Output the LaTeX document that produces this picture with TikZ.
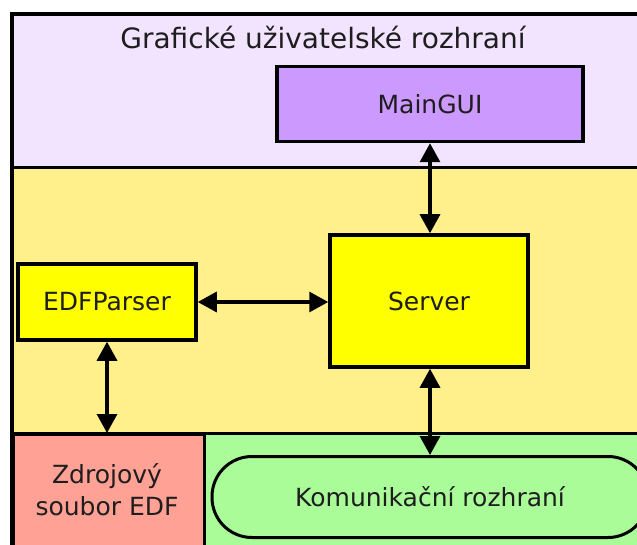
\documentclass[tikz,border=0pt]{standalone}
\usepackage{fontspec}
\setmainfont{DejaVu Sans}
\usetikzlibrary{arrows.meta}
\definecolor{lav}{HTML}{F2E3FF}
\definecolor{paley}{HTML}{FFF08C}
\definecolor{pinkr}{HTML}{FFA194}
\definecolor{greenr}{HTML}{AAFC98}
\definecolor{purp}{HTML}{CC99FF}
\definecolor{yel}{HTML}{FFFF00}
\definecolor{ink}{HTML}{1E1E1E}
\tikzset{
  region/.style={draw=black, line width=3pt},
  box/.style={draw=black, line width=3.5pt, text=ink, font=\fontsize{25}{30}\selectfont, inner sep=0pt},
  conn/.style={line width=3.2pt, {Triangle[length=19pt,width=20pt]}-{Triangle[length=19pt,width=20pt]}},
}
\begin{document}
\begin{tikzpicture}[x=1pt,y=-1pt]
\useasboundingbox (0,0) rectangle (637,545);
\clip (0,0) rectangle (637,545);
% regions
\fill[lav] (12,14) rectangle (660,168);
\fill[paley] (12,168) rectangle (660,433);
\node[region, fill=pinkr, anchor=north west, minimum width=192pt, minimum height=130pt, inner sep=0pt] (src) at (12,433) {};
\fill[greenr] (204,433) rectangle (660,560);
\draw[line width=3pt] (12,168) -- (660,168);
\draw[line width=3pt] (12,433) -- (660,433);
\draw[line width=3pt] (204,433) -- (204,560);
\draw[line width=4pt] (12,560) -- (12,14) -- (660,14);
\node[text=ink, font=\fontsize{28}{32}\selectfont] (title) at (323,38) {Grafické uživatelské rozhraní};
\node[text=ink, font=\fontsize{25}{32}\selectfont, align=center] (srctext) at (107,490) {Zdrojový\\soubor EDF};
% nodes
\node[box, fill=purp, minimum width=306pt, minimum height=75pt] (gui) at (430,104) {MainGUI};
\node[box, fill=yel, minimum width=198pt, minimum height=132pt] (server) at (429,301) {Server};
\node[box, fill=yel, minimum width=178pt, minimum height=76pt] (parser) at (107,302) {EDFParser};
\node[box, fill=greenr, line width=3pt, minimum width=436pt, minimum height=81pt, rounded corners=40pt] (komm) at (430,497) {Komunikační rozhraní};
% connectors
\draw[conn] (gui.south -| 430,0) -- (server.north -| 430,0);
\draw[conn] (parser.east) -- (server.west |- parser.east);
\draw[conn] (parser.south) -- (parser.south |- src.north);
\draw[conn] (server.south -| 430,0) -- (komm.north -| 430,0);
\end{tikzpicture}
\end{document}
